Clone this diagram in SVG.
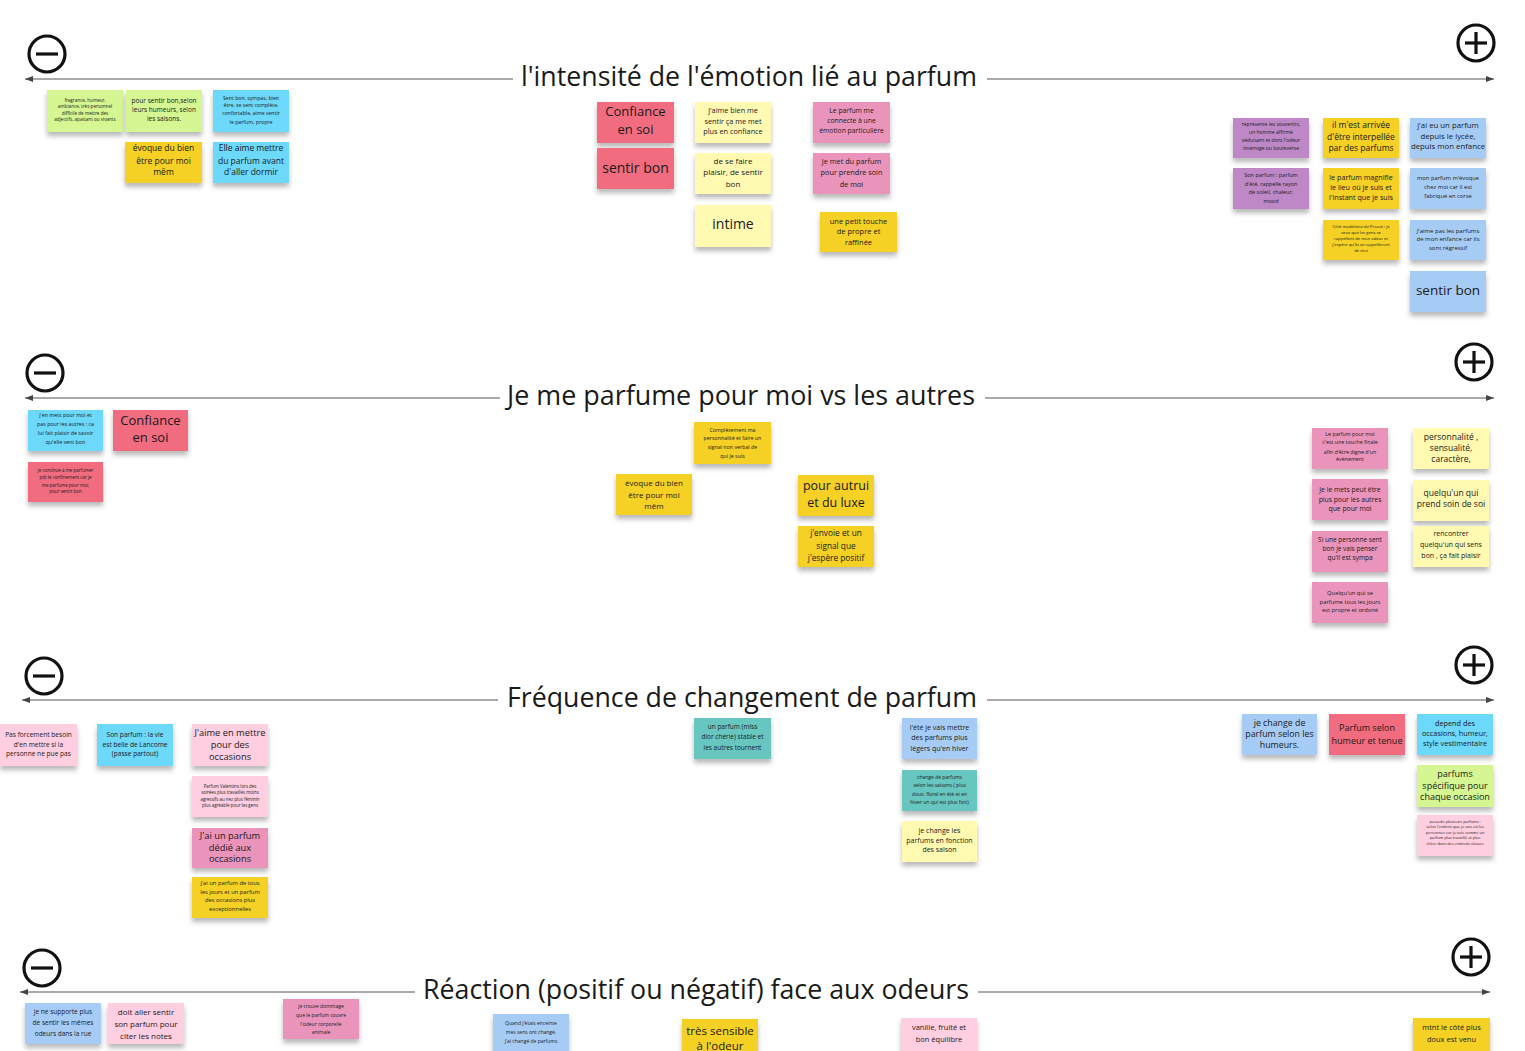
<svg xmlns="http://www.w3.org/2000/svg" width="1525" height="1051" viewBox="0 0 1525 1051">
<defs>
<filter id="sh" x="-10%" y="-10%" width="120%" height="150%"><feDropShadow dx="0" dy="4" stdDeviation="2.5" flood-color="#000" flood-opacity="0.28"/></filter>
<marker id="ah" viewBox="0 0 8 6" refX="8" refY="3" markerWidth="8" markerHeight="6" markerUnits="userSpaceOnUse" orient="auto"><path d="M0,0 L8,3 L0,6 Z" fill="#444"/></marker>
</defs>
<style>
.n rect{filter:url(#sh)}
.t{font-family:"Open Sans","Liberation Sans",sans-serif;fill:#1a1a1a;text-anchor:middle}
.title{font-family:"Open Sans","Liberation Sans",sans-serif;fill:#1a1a1a;text-anchor:middle;font-size:27px}
.axis{stroke:#555;stroke-width:1;fill:none}
.sym{stroke:#111;stroke-width:3.2;fill:none}
.green{fill:#d5f692}.cyan{fill:#6cd8fa}.yellow{fill:#f5d128}.red{fill:#f16c7f}.ly{fill:#fff9b1}.pink{fill:#ea94bb}.purple{fill:#be88c7}.lb{fill:#a6ccf5}.lp{fill:#ffcee0}.teal{fill:#67c6c0}
</style>
<rect width="1525" height="1051" fill="#fff"/>

<g id="axes">
<g id="axis1">
<line class="axis" x1="513" y1="79" x2="25" y2="79" marker-end="url(#ah)"/>
<line class="axis" x1="987" y1="79" x2="1494" y2="79" marker-end="url(#ah)"/>
<circle class="sym" cx="47" cy="54" r="18"/><line class="sym" x1="36" y1="54" x2="58" y2="54"/>
<circle class="sym" cx="1476" cy="43" r="18"/><line class="sym" x1="1465" y1="43" x2="1487" y2="43"/><line class="sym" x1="1476" y1="32" x2="1476" y2="54"/>
<text class="title" x="749" y="86" textLength="456" lengthAdjust="spacingAndGlyphs">l'intensité de l'émotion lié au parfum</text>
</g>
<g id="axis2">
<line class="axis" x1="500" y1="398" x2="25" y2="398" marker-end="url(#ah)"/>
<line class="axis" x1="985" y1="398" x2="1494" y2="398" marker-end="url(#ah)"/>
<circle class="sym" cx="45" cy="373" r="18"/><line class="sym" x1="34" y1="373" x2="56" y2="373"/>
<circle class="sym" cx="1474" cy="362" r="18"/><line class="sym" x1="1463" y1="362" x2="1485" y2="362"/><line class="sym" x1="1474" y1="351" x2="1474" y2="373"/>
<text class="title" x="741" y="405" textLength="468" lengthAdjust="spacingAndGlyphs">Je me parfume pour moi vs les autres</text>
</g>
<g id="axis3">
<line class="axis" x1="498" y1="700" x2="22" y2="700" marker-end="url(#ah)"/>
<line class="axis" x1="987" y1="700" x2="1494" y2="700" marker-end="url(#ah)"/>
<circle class="sym" cx="44" cy="676" r="18"/><line class="sym" x1="33" y1="676" x2="55" y2="676"/>
<circle class="sym" cx="1474" cy="665" r="18"/><line class="sym" x1="1463" y1="665" x2="1485" y2="665"/><line class="sym" x1="1474" y1="654" x2="1474" y2="676"/>
<text class="title" x="742" y="707" textLength="470" lengthAdjust="spacingAndGlyphs">Fréquence de changement de parfum</text>
</g>
<g id="axis4">
<line class="axis" x1="415" y1="992" x2="20" y2="992" marker-end="url(#ah)"/>
<line class="axis" x1="978" y1="992" x2="1490" y2="992" marker-end="url(#ah)"/>
<circle class="sym" cx="42" cy="968" r="18"/><line class="sym" x1="31" y1="968" x2="53" y2="968"/>
<circle class="sym" cx="1471" cy="957" r="18"/><line class="sym" x1="1460" y1="957" x2="1482" y2="957"/><line class="sym" x1="1471" y1="946" x2="1471" y2="968"/>
<text class="title" x="696" y="999" textLength="546" lengthAdjust="spacingAndGlyphs">Réaction (positif ou négatif) face aux odeurs</text>
</g>
</g>

<g id="s1a" class="n"><rect class="green" x="47" y="90" width="76" height="42"/><text class="t" font-size="4.6"><tspan x="85" y="101.6">fragrance, humeur,</tspan><tspan x="85" y="108.1">ambiance, très personnel</tspan><tspan x="85" y="114.6">difficile de mettre des</tspan><tspan x="85" y="121.1">adjectifs, apaisant ou vivants</tspan></text></g>
<g id="s1b" class="n"><rect class="green" x="126" y="90" width="76" height="42"/><text class="t" font-size="6.5"><tspan x="164" y="103.3">pour sentir bon,selon</tspan><tspan x="164" y="112.3">leurs humeurs,  selon</tspan><tspan x="164" y="121.3">les saisons.</tspan></text></g>
<g id="s1c" class="n"><rect class="cyan" x="213" y="90" width="76" height="42"/><text class="t" font-size="5.2"><tspan x="251" y="99.5">Sent bon,  sympas, bien</tspan><tspan x="251" y="107.1">être, se sent complète,</tspan><tspan x="251" y="115.1">confortable, aime sentir</tspan><tspan x="251" y="123.5">le parfum, propre</tspan></text></g>
<g id="s1d" class="n"><rect class="yellow" x="125" y="142" width="77" height="41"/><text class="t" font-size="8.5"><tspan x="163.5" y="151.3">évoque du bien</tspan><tspan x="163.5" y="164">être pour moi</tspan><tspan x="163.5" y="175.3">mêm</tspan></text></g>
<g id="s1e" class="n"><rect class="cyan" x="213" y="142" width="76" height="41"/><text class="t" font-size="8.5"><tspan x="251" y="151.3">Elle aime mettre</tspan><tspan x="251" y="164">du parfum avant</tspan><tspan x="251" y="175.3">d'aller dormir</tspan></text></g>
<g id="s1f" class="n"><rect class="red" x="597" y="102" width="77" height="41"/><text class="t" font-size="13"><tspan x="635.5" y="116.3">Confiance</tspan><tspan x="635.5" y="133.9">en soi</tspan></text></g>
<g id="s1g" class="n"><rect class="red" x="597" y="148" width="77" height="41"/><text class="t" font-size="14"><tspan x="635.5" y="172.6">sentir bon</tspan></text></g>
<g id="s1h" class="n"><rect class="ly" x="695" y="102" width="76" height="41"/><text class="t" font-size="7.3"><tspan x="733" y="112.6">j'aime bien me</tspan><tspan x="733" y="123.6">sentir ça me met</tspan><tspan x="733" y="134.3">plus en confiance</tspan></text></g>
<g id="s1i" class="n"><rect class="ly" x="695" y="153" width="76" height="41"/><text class="t" font-size="8"><tspan x="733" y="163.5">de se faire</tspan><tspan x="733" y="175.1">plaisir, de sentir</tspan><tspan x="733" y="187.1">bon</tspan></text></g>
<g id="s1j" class="n"><rect class="ly" x="695" y="205" width="76" height="42"/><text class="t" font-size="14"><tspan x="733" y="229.2">intime</tspan></text></g>
<g id="s1k" class="n"><rect class="pink" x="813" y="102" width="77" height="41"/><text class="t" font-size="6.8"><tspan x="851.5" y="113.4">Le parfum me</tspan><tspan x="851.5" y="123.4">connecte à une</tspan><tspan x="851.5" y="133.4">émotion particulière</tspan></text></g>
<g id="s1l" class="n"><rect class="pink" x="813" y="153" width="77" height="41"/><text class="t" font-size="7.3"><tspan x="851.5" y="164.3">Je met du parfum</tspan><tspan x="851.5" y="175.3">pour prendre soin</tspan><tspan x="851.5" y="186.6">de moi</tspan></text></g>
<g id="s1m" class="n"><rect class="yellow" x="820" y="212" width="77" height="40"/><text class="t" font-size="7.5"><tspan x="858.5" y="223.6">une petit touche</tspan><tspan x="858.5" y="234.3">de propre et</tspan><tspan x="858.5" y="244.9">raffinée</tspan></text></g>
<g id="s1n" class="n"><rect class="purple" x="1233" y="118" width="76" height="40"/><text class="t" font-size="5"><tspan x="1271" y="125.8">represente les souvenirs,</tspan><tspan x="1271" y="133.8">un homme affirmé</tspan><tspan x="1271" y="141.8">séduisant et dont l'odeur</tspan><tspan x="1271" y="149.5">interroge ou bouleverse</tspan></text></g>
<g id="s1o" class="n"><rect class="purple" x="1233" y="168" width="76" height="41"/><text class="t" font-size="5.5"><tspan x="1271" y="176.9">Son parfum : parfum</tspan><tspan x="1271" y="185.9">d'été, rappelle rayon</tspan><tspan x="1271" y="194.2">de soleil, chaleur,</tspan><tspan x="1271" y="202.9">mood</tspan></text></g>
<g id="s1p" class="n"><rect class="yellow" x="1323" y="118" width="76" height="40"/><text class="t" font-size="8.5"><tspan x="1361" y="128">il m'est arrivée</tspan><tspan x="1361" y="139.7">d'être interpellée</tspan><tspan x="1361" y="150.7">par des parfums</tspan></text></g>
<g id="s1q" class="n"><rect class="yellow" x="1323" y="168" width="76" height="41"/><text class="t" font-size="7.2"><tspan x="1361" y="180.2">le parfum magnifie</tspan><tspan x="1361" y="190.2">le lieu où je suis et</tspan><tspan x="1361" y="200.2">l'instant que je suis</tspan></text></g>
<g id="s1r" class="n"><rect class="yellow" x="1323" y="220" width="76" height="40"/><text class="t" font-size="4.2"><tspan x="1361" y="228.2">Côté madeleine de Proust : je</tspan><tspan x="1361" y="233.8">veux que les gens se</tspan><tspan x="1361" y="239.8">rappellent de mon odeur et</tspan><tspan x="1361" y="245.8">j'espère qu'ils se rappelleront</tspan><tspan x="1361" y="252.2">de moi</tspan></text></g>
<g id="s1s" class="n"><rect class="lb" x="1410" y="118" width="76" height="40"/><text class="t" font-size="7.8"><tspan x="1448" y="128.4">j'ai eu un parfum</tspan><tspan x="1448" y="138.7">depuis le lycée,</tspan><tspan x="1448" y="149.4">depuis mon enfance</tspan></text></g>
<g id="s1t" class="n"><rect class="lb" x="1410" y="168" width="76" height="41"/><text class="t" font-size="5.8"><tspan x="1448" y="179.7">mon parfum m'évoque</tspan><tspan x="1448" y="188.7">chez moi car il est</tspan><tspan x="1448" y="197.7">fabriqué en corse</tspan></text></g>
<g id="s1u" class="n"><rect class="lb" x="1410" y="220" width="76" height="40"/><text class="t" font-size="6"><tspan x="1448" y="233.1">J'aime pas les parfums</tspan><tspan x="1448" y="241.1">de mon enfance car ils</tspan><tspan x="1448" y="249.8">sont régressif</tspan></text></g>
<g id="s1v" class="n"><rect class="lb" x="1410" y="271" width="76" height="41"/><text class="t" font-size="13.5"><tspan x="1448" y="294.7">sentir bon</tspan></text></g>

<g id="s2a" class="n"><rect class="cyan" x="28" y="410" width="75" height="41"/><text class="t" font-size="5.3"><tspan x="65.5" y="416.9">j'en mets pour moi et</tspan><tspan x="65.5" y="425.9">pas pour les autres : ca</tspan><tspan x="65.5" y="435.2">lui fait plaisir de savoir</tspan><tspan x="65.5" y="444.2">qu'elle sent bon</tspan></text></g>
<g id="s2b" class="n"><rect class="red" x="113" y="410" width="75" height="41"/><text class="t" font-size="13"><tspan x="150.5" y="424.6">Confiance</tspan><tspan x="150.5" y="441.9">en soi</tspan></text></g>
<g id="s2c" class="n"><rect class="red" x="28" y="462" width="75" height="40"/><text class="t" font-size="4.5"><tspan x="65.5" y="471.6">je continue à me parfumer</tspan><tspan x="65.5" y="478.9">pdt le confinement car je</tspan><tspan x="65.5" y="486.6">me parfume pour moi,</tspan><tspan x="65.5" y="493.3">pour sentir bon</tspan></text></g>
<g id="s2d" class="n"><rect class="yellow" x="694" y="422" width="77" height="42"/><text class="t" font-size="5.3"><tspan x="732.5" y="431.9">Complètement ma</tspan><tspan x="732.5" y="440.2">personnalité et faire un</tspan><tspan x="732.5" y="449.2">signal non verbal de</tspan><tspan x="732.5" y="457.6">qui je suis</tspan></text></g>
<g id="s2e" class="n"><rect class="yellow" x="616" y="474" width="76" height="41"/><text class="t" font-size="8"><tspan x="654" y="486.1">évoque du bien</tspan><tspan x="654" y="497.8">être pour moi</tspan><tspan x="654" y="508.5">mêm</tspan></text></g>
<g id="s2f" class="n"><rect class="yellow" x="798" y="475" width="76" height="41"/><text class="t" font-size="12.5"><tspan x="836" y="490.1">pour autrui</tspan><tspan x="836" y="506.7">et du luxe</tspan></text></g>
<g id="s2g" class="n"><rect class="yellow" x="798" y="526" width="76" height="41"/><text class="t" font-size="8.3"><tspan x="836" y="536.2">j'envoie et un</tspan><tspan x="836" y="548.9">signal que</tspan><tspan x="836" y="560.6">j'espère positif</tspan></text></g>
<g id="s2h" class="n"><rect class="pink" x="1312" y="428" width="76" height="41"/><text class="t" font-size="5.3"><tspan x="1350" y="435.9">Le parfum pour moi</tspan><tspan x="1350" y="444.2">c'est une touche finale</tspan><tspan x="1350" y="453.6">afin d'être digne d'un</tspan><tspan x="1350" y="461.2">évènement</tspan></text></g>
<g id="s2i" class="n"><rect class="pink" x="1312" y="479" width="76" height="41"/><text class="t" font-size="6.8"><tspan x="1350" y="492.4">Je le mets peut être</tspan><tspan x="1350" y="501.7">plus pour les autres</tspan><tspan x="1350" y="510.7">que pour moi</tspan></text></g>
<g id="s2j" class="n"><rect class="pink" x="1312" y="531" width="76" height="41"/><text class="t" font-size="6.5"><tspan x="1350" y="541.6">Si une personne sent</tspan><tspan x="1350" y="550.6">bon je vais penser</tspan><tspan x="1350" y="559.6">qu'il est sympa</tspan></text></g>
<g id="s2k" class="n"><rect class="pink" x="1312" y="582" width="76" height="41"/><text class="t" font-size="5.8"><tspan x="1350" y="595.3">Quelqu'un qui se</tspan><tspan x="1350" y="603.7">parfume tous les jours</tspan><tspan x="1350" y="612">est propre et ordoné</tspan></text></g>
<g id="s2l" class="n"><rect class="ly" x="1413" y="428" width="76" height="41"/><text class="t" font-size="8.5"><tspan x="1451" y="439.7">personnalité ,</tspan><tspan x="1451" y="451.3">sensualité,</tspan><tspan x="1451" y="462.3">caractère,</tspan></text></g>
<g id="s2m" class="n"><rect class="ly" x="1413" y="480" width="76" height="41"/><text class="t" font-size="8.5"><tspan x="1451" y="495.7">quelqu'un qui</tspan><tspan x="1451" y="507">prend soin de soi</tspan></text></g>
<g id="s2n" class="n"><rect class="ly" x="1413" y="526" width="76" height="41"/><text class="t" font-size="7"><tspan x="1451" y="535.8">rencontrer</tspan><tspan x="1451" y="546.5">quelqu'un qui sens</tspan><tspan x="1451" y="557.5">bon , ça fait plaisir</tspan></text></g>

<g id="s3a" class="n"><rect class="lp" x="0" y="724" width="77" height="42"/><text class="t" font-size="6.6"><tspan x="38.5" y="737.3">Pas forcement besoin</tspan><tspan x="38.5" y="746.6">d'en mettre si la</tspan><tspan x="38.5" y="756.3">personne ne pue pas</tspan></text></g>
<g id="s3b" class="n"><rect class="cyan" x="97" y="724" width="76" height="42"/><text class="t" font-size="6.6"><tspan x="135" y="737.3">Son parfum : la vie</tspan><tspan x="135" y="746.6">est belle de Lancome</tspan><tspan x="135" y="756.3">(passe partout)</tspan></text></g>
<g id="s3c" class="n"><rect class="lp" x="192" y="724" width="76" height="42"/><text class="t" font-size="9.3"><tspan x="230" y="735.6">J'aime en mettre</tspan><tspan x="230" y="747.6">pour des</tspan><tspan x="230" y="760">occasions</tspan></text></g>
<g id="s3d" class="n"><rect class="lp" x="192" y="776" width="76" height="41"/><text class="t" font-size="4.4"><tspan x="230" y="787.5">Parfum Valentino lors des</tspan><tspan x="230" y="793.8">soirées plus travaillés moins</tspan><tspan x="230" y="800.5">agressifs au nez plus féminin</tspan><tspan x="230" y="807.2">plus agréable pour les gens</tspan></text></g>
<g id="s3e" class="n"><rect class="pink" x="192" y="828" width="76" height="40"/><text class="t" font-size="9.3"><tspan x="230" y="839">J'ai un parfum</tspan><tspan x="230" y="850.6">dédié aux</tspan><tspan x="230" y="861.6">occasions</tspan></text></g>
<g id="s3f" class="n"><rect class="yellow" x="192" y="877" width="76" height="41"/><text class="t" font-size="5.8"><tspan x="230" y="885.3">j'ai un parfum de tous</tspan><tspan x="230" y="893.7">les jours et un parfum</tspan><tspan x="230" y="902">des occasions plus</tspan><tspan x="230" y="911">exceptionnelles</tspan></text></g>
<g id="s3g" class="n"><rect class="teal" x="694" y="718" width="77" height="41"/><text class="t" font-size="6.5"><tspan x="732.5" y="729.3">un parfum (miss</tspan><tspan x="732.5" y="739.3">dior chérie) stable et</tspan><tspan x="732.5" y="750">les autres tournent</tspan></text></g>
<g id="s3h" class="n"><rect class="lb" x="902" y="718" width="75" height="41"/><text class="t" font-size="7"><tspan x="939.5" y="729.5">l'été je vais mettre</tspan><tspan x="939.5" y="740.2">des parfums plus</tspan><tspan x="939.5" y="750.5">légers qu'en hiver</tspan></text></g>
<g id="s3i" class="n"><rect class="teal" x="902" y="770" width="75" height="41"/><text class="t" font-size="5"><tspan x="939.5" y="778.8">change de parfums</tspan><tspan x="939.5" y="787.1">selon les saisons ( plus</tspan><tspan x="939.5" y="795.5">doux, floral en été et en</tspan><tspan x="939.5" y="803.8">hiver un qui est plus fort)</tspan></text></g>
<g id="s3j" class="n"><rect class="ly" x="902" y="821" width="75" height="41"/><text class="t" font-size="7"><tspan x="939.5" y="832.8">je change les</tspan><tspan x="939.5" y="842.8">parfums en fonction</tspan><tspan x="939.5" y="852.2">des saison</tspan></text></g>
<g id="s3k" class="n"><rect class="lb" x="1242" y="714" width="75" height="41"/><text class="t" font-size="8.8"><tspan x="1279.5" y="726.1">je change de</tspan><tspan x="1279.5" y="737.1">parfum selon les</tspan><tspan x="1279.5" y="748.4">humeurs.</tspan></text></g>
<g id="s3l" class="n"><rect class="red" x="1329" y="714" width="76" height="41"/><text class="t" font-size="9"><tspan x="1367" y="731.2">Parfum selon</tspan><tspan x="1367" y="743.5">humeur et tenue</tspan></text></g>
<g id="s3m" class="n"><rect class="cyan" x="1417" y="714" width="76" height="41"/><text class="t" font-size="7.3"><tspan x="1455" y="726.3">depend des</tspan><tspan x="1455" y="736.3">occasions, humeur,</tspan><tspan x="1455" y="746.3">style vestimentaire</tspan></text></g>
<g id="s3n" class="n"><rect class="green" x="1417" y="765" width="76" height="42"/><text class="t" font-size="9"><tspan x="1455" y="777.2">parfums</tspan><tspan x="1455" y="788.9">spécifique pour</tspan><tspan x="1455" y="799.5">chaque occasion</tspan></text></g>
<g id="s3o" class="n"><rect class="lp" x="1417" y="815" width="76" height="41"/><text class="t" font-size="3.9"><tspan x="1455" y="822.7">possede plusieurs parfums :</tspan><tspan x="1455" y="828.4">selon l'endroit que je vais où les</tspan><tspan x="1455" y="833.7">personnes sur je vois comme un</tspan><tspan x="1455" y="839.4">parfum plus travaillé et plus</tspan><tspan x="1455" y="845.1">chère dans des endroits classes</tspan></text></g>

<g id="s4a" class="n"><rect class="lb" x="25" y="1003" width="76" height="41"/><text class="t" font-size="6.5"><tspan x="63" y="1014.3">je ne supporte plus</tspan><tspan x="63" y="1025.3">de sentir les mêmes</tspan><tspan x="63" y="1036.3">odeurs dans la rue</tspan></text></g>
<g id="s4b" class="n"><rect class="lp" x="108" y="1003" width="76" height="41"/><text class="t" font-size="8"><tspan x="146" y="1014.8">doit aller sentir</tspan><tspan x="146" y="1026.8">son parfum pour</tspan><tspan x="146" y="1038.8">citer les notes</tspan></text></g>
<g id="s4c" class="n"><rect class="pink" x="283" y="999" width="76" height="40"/><text class="t" font-size="5"><tspan x="321" y="1007.8">je trouve dommage</tspan><tspan x="321" y="1016.8">que le parfum couvre</tspan><tspan x="321" y="1025.8">l'odeur corporelle</tspan><tspan x="321" y="1033.8">animale</tspan></text></g>
<g id="s4d" class="n"><rect class="lb" x="493" y="1014" width="76" height="40"/><text class="t" font-size="5"><tspan x="531" y="1024.8">Quand j'étais enceinte</tspan><tspan x="531" y="1033.8">mes sens ont changé,</tspan><tspan x="531" y="1042.8">j'ai changé de parfums</tspan></text></g>
<g id="s4e" class="n"><rect class="yellow" x="682" y="1019" width="76" height="40"/><text class="t" font-size="11.5"><tspan x="720" y="1035">très sensible</tspan><tspan x="720" y="1050">à l'odeur</tspan></text></g>
<g id="s4f" class="n"><rect class="lp" x="901" y="1018" width="76" height="40"/><text class="t" font-size="7.5"><tspan x="939" y="1029.6">vanille, fruité et</tspan><tspan x="939" y="1041.6">bon équilibre</tspan></text></g>
<g id="s4g" class="n"><rect class="yellow" x="1413" y="1018" width="77" height="40"/><text class="t" font-size="7.5"><tspan x="1451.5" y="1029.6">mtnt le côté plus</tspan><tspan x="1451.5" y="1041.6">doux est venu</tspan></text></g>
</svg>
